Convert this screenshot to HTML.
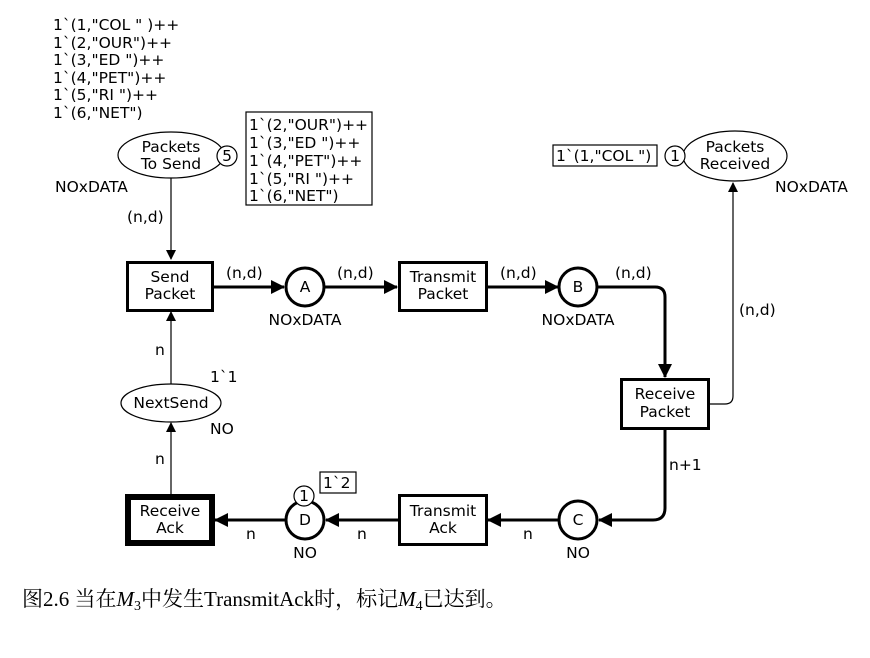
<!DOCTYPE html>
<html><head><meta charset="utf-8"><style>
body{margin:0;background:#fff;}
svg text{font-family:"DejaVu Sans","Liberation Sans",sans-serif;font-size:15.5px;fill:#000;}
.c{text-anchor:middle;}
.cap{font-family:"Liberation Serif","Noto Serif CJK SC",serif;font-size:21px;}
</style></head><body>
<svg width="870" height="653" viewBox="0 0 870 653" xmlns="http://www.w3.org/2000/svg">
<defs>
<marker id="ar" markerWidth="10" markerHeight="10" refX="9" refY="5" orient="auto" markerUnits="userSpaceOnUse" viewBox="0 0 10 10"><path d="M0,0 L10,5 L0,10z" fill="#000"/></marker>
<marker id="ab" markerWidth="14" markerHeight="14" refX="13" refY="7" orient="auto" markerUnits="userSpaceOnUse" viewBox="0 0 14 14"><path d="M0,0 L14,7 L0,14z" fill="#000"/></marker>
</defs>
<g>
<text x="53" y="30">1`(1,"COL " )++</text>
<text x="53" y="48">1`(2,"OUR")++</text>
<text x="53" y="65">1`(3,"ED ")++</text>
<text x="53" y="83">1`(4,"PET")++</text>
<text x="53" y="100">1`(5,"RI ")++</text>
<text x="53" y="118">1`(6,"NET")</text>
</g>
<ellipse cx="171" cy="155" rx="53" ry="23" fill="#fff" stroke="#000" stroke-width="1.2"/>
<text x="171" y="152" class="c">Packets</text>
<text x="171" y="169" class="c">To Send</text>
<circle cx="227" cy="156" r="10" fill="#fff" stroke="#000" stroke-width="1.2"/>
<text x="227" y="161" class="c">5</text>
<rect x="246" y="112" width="126" height="93" fill="#fff" stroke="#000" stroke-width="1.2"/>
<text x="249" y="130">1`(2,"OUR")++</text>
<text x="249" y="148">1`(3,"ED ")++</text>
<text x="249" y="166">1`(4,"PET")++</text>
<text x="249" y="184">1`(5,"RI ")++</text>
<text x="249" y="201">1`(6,"NET")</text>
<text x="55" y="192">NOxDATA</text>
<line x1="171" y1="178" x2="171" y2="259" stroke="#000" stroke-width="1.2" marker-end="url(#ar)"/>
<text x="127" y="222">(n,d)</text>
<rect x="127.5" y="262.5" width="85" height="48" fill="#fff" stroke="#000" stroke-width="3"/>
<text x="170" y="282" class="c">Send</text>
<text x="170" y="299" class="c">Packet</text>
<line x1="214" y1="287" x2="284" y2="287" stroke="#000" stroke-width="3" marker-end="url(#ab)"/>
<text x="226" y="278">(n,d)</text>
<circle cx="305" cy="287" r="19" fill="#fff" stroke="#000" stroke-width="3"/>
<text x="305" y="292" class="c">A</text>
<text x="305" y="325" class="c">NOxDATA</text>
<line x1="324" y1="287" x2="397" y2="287" stroke="#000" stroke-width="3" marker-end="url(#ab)"/>
<text x="337" y="278">(n,d)</text>
<rect x="399.5" y="262.5" width="87" height="48" fill="#fff" stroke="#000" stroke-width="3"/>
<text x="443" y="282" class="c">Transmit</text>
<text x="443" y="299" class="c">Packet</text>
<line x1="488" y1="287" x2="558" y2="287" stroke="#000" stroke-width="3" marker-end="url(#ab)"/>
<text x="500" y="278">(n,d)</text>
<circle cx="578" cy="287" r="19" fill="#fff" stroke="#000" stroke-width="3"/>
<text x="578" y="292" class="c">B</text>
<text x="578" y="325" class="c">NOxDATA</text>
<path d="M597,287 L655,287 Q665,287 665,297 L665,377" fill="none" stroke="#000" stroke-width="3" marker-end="url(#ab)"/>
<text x="615" y="278">(n,d)</text>
<rect x="621.5" y="379.5" width="87" height="49" fill="#fff" stroke="#000" stroke-width="3"/>
<text x="665" y="399" class="c">Receive</text>
<text x="665" y="417" class="c">Packet</text>
<path d="M710,404 L725,404 Q733,404 733,396 L733,183" fill="none" stroke="#000" stroke-width="1.2" marker-end="url(#ar)"/>
<text x="739" y="315">(n,d)</text>
<ellipse cx="735" cy="156" rx="52" ry="25" fill="#fff" stroke="#000" stroke-width="1.2"/>
<text x="735" y="152" class="c">Packets</text>
<text x="735" y="169" class="c">Received</text>
<circle cx="675" cy="156" r="10" fill="#fff" stroke="#000" stroke-width="1.2"/>
<text x="675" y="161" class="c">1</text>
<rect x="553" y="145" width="104" height="21" fill="#fff" stroke="#000" stroke-width="1.2"/>
<text x="556" y="161">1`(1,"COL ")</text>
<text x="775" y="192">NOxDATA</text>
<path d="M665,430 L665,508 Q665,520 653,520 L599,520" fill="none" stroke="#000" stroke-width="3" marker-end="url(#ab)"/>
<text x="669" y="470">n+1</text>
<circle cx="578" cy="520" r="19" fill="#fff" stroke="#000" stroke-width="3"/>
<text x="578" y="525" class="c">C</text>
<text x="578" y="558" class="c">NO</text>
<line x1="559" y1="520" x2="488" y2="520" stroke="#000" stroke-width="3" marker-end="url(#ab)"/>
<text x="523" y="539">n</text>
<rect x="399.5" y="495.5" width="87" height="49" fill="#fff" stroke="#000" stroke-width="3"/>
<text x="443" y="516" class="c">Transmit</text>
<text x="443" y="533" class="c">Ack</text>
<line x1="398" y1="520" x2="326" y2="520" stroke="#000" stroke-width="3" marker-end="url(#ab)"/>
<text x="357" y="539">n</text>
<circle cx="305" cy="520" r="19" fill="#fff" stroke="#000" stroke-width="3"/>
<text x="305" y="525" class="c">D</text>
<text x="305" y="558" class="c">NO</text>
<circle cx="304" cy="496" r="10" fill="#fff" stroke="#000" stroke-width="1.2"/>
<text x="304" y="501" class="c">1</text>
<rect x="320" y="472" width="36" height="21" fill="#fff" stroke="#000" stroke-width="1.2"/>
<text x="323" y="488">1`2</text>
<line x1="286" y1="520" x2="215" y2="520" stroke="#000" stroke-width="3" marker-end="url(#ab)"/>
<text x="246" y="539">n</text>
<rect x="128" y="497" width="84" height="46" fill="#fff" stroke="#000" stroke-width="6"/>
<text x="170" y="516" class="c">Receive</text>
<text x="170" y="533" class="c">Ack</text>
<line x1="171" y1="494" x2="171" y2="423" stroke="#000" stroke-width="1.2" marker-end="url(#ar)"/>
<text x="155" y="464">n</text>
<ellipse cx="171" cy="403" rx="50" ry="19" fill="#fff" stroke="#000" stroke-width="1.2"/>
<text x="171" y="408" class="c">NextSend</text>
<text x="210" y="382">1`1</text>
<text x="210" y="434">NO</text>
<line x1="171" y1="384" x2="171" y2="312" stroke="#000" stroke-width="1.2" marker-end="url(#ar)"/>
<text x="155" y="355">n</text>
<text x="22" y="606" class="cap">图2.6 当在<tspan font-style="italic">M</tspan><tspan font-size="14" dy="4">3</tspan><tspan dy="-4">中发生TransmitAck时，标记</tspan><tspan font-style="italic">M</tspan><tspan font-size="14" dy="4">4</tspan><tspan dy="-4">已达到。</tspan></text>
</svg>
</body></html>
